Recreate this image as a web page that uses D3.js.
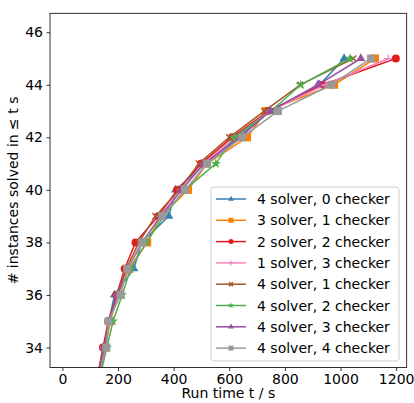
<!DOCTYPE html>
<html>
<head>
<meta charset="utf-8">
<script src="https://cdn.jsdelivr.net/npm/d3@7/dist/d3.min.js"></script>
<style>
  body { margin: 0; background: #fff; }
  svg { font-family: "DejaVu Sans", sans-serif; }
</style>
</head>
<body>
<svg id="chart" width="414" height="403"></svg>
<script>
// instances solved (y) and the run time reached for each count (x)
var levels = [33, 34, 35, 36, 37, 38, 39, 40, 41, 42, 43, 44, 45];

var s4c0 = [132, 150, 168, 187, 257, 285, 383, 407, 515, 630, 745, 925, 1013];
var s3c1 = [135, 155, 172, 200, 240, 305, 355, 452, 520, 664, 733, 977, 1124];
var s2c2 = [128, 146, 165, 195, 224, 263, 345, 413, 500, 610, 740, 937, 1199];
var s1c3 = [130, 150, 170, 198, 235, 290, 350, 425, 510, 620, 745, 945, 1172];
var s4c1 = [128, 148, 168, 195, 230, 275, 335, 420, 491, 600, 726, 855, 1046];
var s4c2 = [138, 160, 182, 215, 245, 302, 365, 440, 552, 617, 750, 857, 1034];
var s4c3 = [130, 150, 168, 198, 235, 285, 355, 429, 509, 640, 747, 919, 1073];
var s4c4 = [132, 158, 166, 209, 233, 287, 359, 441, 520, 646, 775, 967, 1110];

var seriesNames = ["4 solver, 0 checker", "3 solver, 1 checker", "2 solver, 2 checker",
  "1 solver, 3 checker", "4 solver, 1 checker", "4 solver, 2 checker",
  "4 solver, 3 checker", "4 solver, 4 checker"];
var seriesTimes = [s4c0, s3c1, s2c2, s1c3, s4c1, s4c2, s4c3, s4c4];

var xTicks = [0, 200, 400, 600, 800, 1000, 1200];
var yTicks = [34, 36, 38, 40, 42, 44, 46];

var colors = ["#377eb8", "#ff7f00", "#e41a1c", "#f781bf", "#a65628", "#4daf4a", "#984ea3", "#999999"];
var markers = ["triangle", "square", "circle", "plus", "x", "star", "triangle", "square"];

var svg = d3.select("#chart");
var pLeft = 50, pRight = 406.7, pTop = 13.3, pBottom = 367.5;

var x = d3.scaleLinear().domain([-44.5, 1238]).range([pLeft, pRight]);
var y = d3.scaleLinear().domain([33.24, 46.72]).range([pBottom, pTop]);

svg.append("defs").append("clipPath").attr("id", "plotclip")
  .append("rect").attr("x", pLeft).attr("y", pTop)
  .attr("width", pRight - pLeft).attr("height", pBottom - pTop);

// draw a marker shape at 0,0 of size s
function marker(g, kind, color, s) {
  if (kind == "triangle") {
    g.append("path").attr("d", d3.symbol().type(d3.symbolTriangle).size(s * s * 0.55)())
      .attr("fill", color);
  } else if (kind == "square") {
    g.append("rect").attr("x", -s / 2).attr("y", -s / 2).attr("width", s).attr("height", s)
      .attr("fill", color);
  } else if (kind == "circle") {
    g.append("circle").attr("r", s / 2).attr("fill", color);
  } else if (kind == "star") {
    g.append("path").attr("d", d3.symbol().type(d3.symbolStar).size(s * s * 0.5)())
      .attr("fill", color);
  } else if (kind == "plus") {
    var h = s / 2;
    g.append("path").attr("d", "M" + (-h) + ",0H" + h + "M0," + (-h) + "V" + h)
      .attr("stroke", color).attr("stroke-width", 1.2);
  } else if (kind == "x") {
    var h = s / 2.6;
    g.append("path").attr("d", "M" + (-h) + "," + (-h) + "L" + h + "," + h + "M" + (-h) + "," + h + "L" + h + "," + (-h))
      .attr("stroke", color).attr("stroke-width", 1.5);
  }
}

var plot = svg.append("g").attr("clip-path", "url(#plotclip)");
var line = d3.line().x(function(d) { return x(d[0]); }).y(function(d) { return y(d[1]); });

seriesTimes.forEach(function(times, i) {
  var pts = times.map(function(t, j) { return [t, levels[j]]; });
  var g = plot.append("g");
  g.append("path").datum(pts).attr("d", line)
    .attr("fill", "none").attr("stroke", colors[i]).attr("stroke-width", 1.5);
  pts.forEach(function(p) {
    var m = g.append("g").attr("transform", "translate(" + x(p[0]) + "," + y(p[1]) + ")");
    marker(m, markers[i], colors[i], 8);
  });
});

// axes
var xAxis = svg.append("g").attr("transform", "translate(0," + pBottom + ")")
  .call(d3.axisBottom(x).tickValues(xTicks).tickFormat(d3.format("d")).tickSize(3.5).tickPadding(3.5));
var yAxis = svg.append("g").attr("transform", "translate(" + pLeft + ",0)")
  .call(d3.axisLeft(y).tickValues(yTicks).tickFormat(d3.format("d")).tickSize(3.5).tickPadding(3.5));
[xAxis, yAxis].forEach(function(a) {
  a.select(".domain").remove();
  a.selectAll("line").attr("stroke", "#000").attr("stroke-width", 0.8);
  a.selectAll("text").attr("font-size", 14).attr("fill", "#000")
    .attr("font-family", "DejaVu Sans, sans-serif");
});

svg.append("rect").attr("x", pLeft).attr("y", pTop)
  .attr("width", pRight - pLeft).attr("height", pBottom - pTop)
  .attr("fill", "none").attr("stroke", "#000").attr("stroke-width", 0.8);

svg.append("text").attr("x", (pLeft + pRight) / 2).attr("y", 398)
  .attr("text-anchor", "middle").attr("font-size", 14).text("Run time t / s");
svg.append("text").attr("transform", "translate(18," + ((pTop + pBottom) / 2) + ") rotate(-90)")
  .attr("text-anchor", "middle").attr("font-size", 14).text("# instances solved in \u2264 t s");

// legend
var lg = svg.append("g");
lg.append("rect").attr("x", 211).attr("y", 187).attr("width", 188).attr("height", 174)
  .attr("rx", 3).attr("fill", "#fff").attr("fill-opacity", 0.8)
  .attr("stroke", "#cccccc").attr("stroke-width", 1);
seriesNames.forEach(function(name, i) {
  var cy = 199 + i * 21.3;
  lg.append("line").attr("x1", 216).attr("x2", 246).attr("y1", cy).attr("y2", cy)
    .attr("stroke", colors[i]).attr("stroke-width", 1.5);
  var m = lg.append("g").attr("transform", "translate(231," + cy + ")");
  marker(m, markers[i], colors[i], 5);
  lg.append("text").attr("x", 257).attr("y", cy + 5).attr("font-size", 14).text(name);
});
</script>
</body>
</html>
